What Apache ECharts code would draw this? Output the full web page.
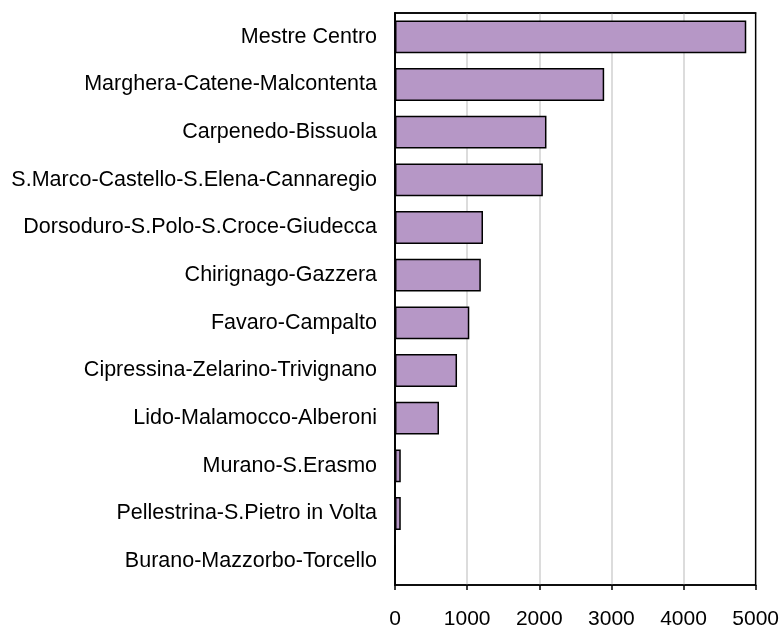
<!DOCTYPE html>
<html><head><meta charset="utf-8">
<script src="https://cdn.jsdelivr.net/npm/echarts@6/dist/echarts.min.js"></script>
<style>html,body{margin:0;padding:0;background:#fff}#c{width:782px;height:635px}</style>
</head><body><div id="c"></div>
<script>
const categories = ["Mestre Centro","Marghera-Catene-Malcontenta","Carpenedo-Bissuola","S.Marco-Castello-S.Elena-Cannaregio","Dorsoduro-S.Polo-S.Croce-Giudecca","Chirignago-Gazzera","Favaro-Campalto","Cipressina-Zelarino-Trivignano","Lido-Malamocco-Alberoni","Murano-S.Erasmo","Pellestrina-S.Pietro in Volta","Burano-Mazzorbo-Torcello"];
const values = [4870, 2900, 2100, 2050, 1220, 1190, 1030, 860, 610, 80, 80, 0];
const xTicks = [0, 1000, 2000, 3000, 4000, 5000];
const FONT = '"Liberation Sans", Arial, sans-serif';
const chart = echarts.init(document.getElementById('c'), null, {renderer:'canvas'});
chart.setOption({
  animation: false,
  grid: {left: 395, right: 25, top: 13, bottom: 50, show: true, borderColor: '#000', borderWidth: 1.5, backgroundColor: 'transparent'},
  xAxis: [{
    type: 'value', min: xTicks[0], max: xTicks[xTicks.length-1], interval: 1000,
    axisLine: {show: true, lineStyle: {color: '#000', width: 1.5}},
    axisTick: {show: true, length: 5, lineStyle: {color: '#000', width: 1.5}},
    axisLabel: {color: '#000', fontFamily: FONT, fontSize: 21, margin: 24, formatter: v => String(v)},
    splitLine: {show: true, showMinLine: false, showMaxLine: false, lineStyle: {color: '#d0d0d0', width: 1.5}}
  }, {
    type: 'value', position: 'top', min: 0, max: 1,
    axisLine: {show: true, lineStyle: {color: '#000', width: 1.5}},
    axisTick: {show: false}, axisLabel: {show: false}, splitLine: {show: false}
  }],
  yAxis: [{
    type: 'category', data: categories, inverse: true,
    axisLine: {show: true, lineStyle: {color: '#000', width: 1.5}},
    axisTick: {show: false},
    axisLabel: {color: '#000', fontFamily: FONT, fontSize: 21.5, margin: 18}
  }, {
    type: 'value', position: 'right', min: 0, max: 1,
    axisLine: {show: true, lineStyle: {color: '#000', width: 1.5}},
    axisTick: {show: false}, axisLabel: {show: false}, splitLine: {show: false}
  }],
  series: [{
    type: 'bar', data: values, barCategoryGap: '31%', xAxisIndex: 0, yAxisIndex: 0,
    itemStyle: {color: '#B697C6', borderColor: '#000', borderWidth: 1.5}
  }]
});
</script></body></html>
